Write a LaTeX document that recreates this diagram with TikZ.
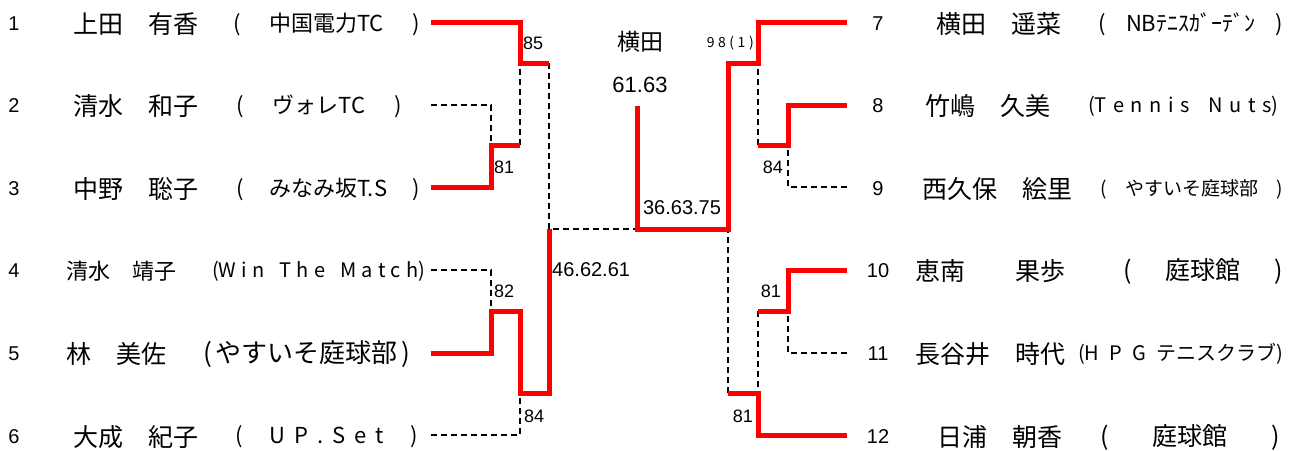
\documentclass[tikz,border=0pt]{standalone}
\usepackage{fontspec}
\setmainfont{Liberation Sans}
\newfontfamily\jp{Noto Sans CJK JP}
\definecolor{winred}{RGB}{255, 0, 0}
\newcommand{\clubtext}[2]{\makebox[#1pt][s]{#2}}
\tikzset{
  seed/.style={font=\fontsize{20}{24}\selectfont, inner sep=0pt},
  player/.style={font=\jp\fontsize{25}{29}\selectfont, anchor=west, inner sep=0pt},
  club/.style={font=\jp\fontsize{22}{26}\selectfont, anchor=west, inner sep=0pt},
  score/.style={font=\fontsize{18}{22}\selectfont, inner sep=0pt},
  win/.style={winred, line width=5pt},
  lose/.style={black, line width=2.5pt, dash pattern=on 6pt off 4pt},
}

\begin{document}
\begin{tikzpicture}[x=1pt, y=-1pt]
  \useasboundingbox (0,0) rectangle (1296,450);

  % Seeds
  \node[seed] (s1) at (14,24) {1};
  \node[seed] (s2) at (14,106) {2};
  \node[seed] (s3) at (14,189) {3};
  \node[seed] (s4) at (14,271) {4};
  \node[seed] (s5) at (14,354) {5};
  \node[seed] (s6) at (14,437) {6};
  \node[seed] (s7) at (878,24) {7};
  \node[seed] (s8) at (878,106) {8};
  \node[seed] (s9) at (878,189) {9};
  \node[seed] (s10) at (878,271) {10};
  \node[seed] (s11) at (878,354) {11};
  \node[seed] (s12) at (878,437) {12};

  % Players, left half
  \node[player] (p1) at (73,24) {上田　有香};
  \node[player] (p2) at (73,106) {清水　和子};
  \node[player] (p3) at (73,189) {中野　聡子};
  \node[player, font=\jp\fontsize{22}{26}\selectfont] (p4) at (66,271) {清水　靖子};
  \node[player] (p5) at (66,354) {林　美佐};
  \node[player] (p6) at (73,437) {大成　紀子};

  % Players, right half
  \node[player] (p7) at (936,24) {横田　遥菜};
  \node[player] (p8) at (925,106) {竹嶋　久美};
  \node[player] (p9) at (922,189) {西久保　絵里};
  \node[player] (p10) at (915,271) {恵南　　果歩};
  \node[player] (p11) at (915,354) {長谷井　時代};
  \node[player] (p12) at (937,437) {日浦　朝香};

  % Clubs, left half
  \node[club] (c1) at (233,24) {\clubtext{187}{( 中国電力TC )}};
  \node[club] (c2) at (236,106) {\clubtext{166}{( ヴォレTC )}};
  \node[club] (c3) at (236,189) {\clubtext{184}{( みなみ坂T.S )}};
  \node[club, font=\jp\fontsize{20}{24}\selectfont] (c4) at (212,271) {\clubtext{213}{(W i n ~ T h e ~ M a t c h)}};
  \node[club, font=\jp\fontsize{26}{30}\selectfont] (c5) at (203,354) {\clubtext{205}{( やすいそ庭球部 )}};
  \node[club] (c6) at (235,437) {\clubtext{183}{(~~~U P . S e t~~~)}};

  % Clubs, right half
  \node[club] (c7) at (1098,24) {\clubtext{185}{( NBﾃﾆｽｶﾞｰﾃﾞﾝ )}};
  \node[club, font=\jp\fontsize{20}{24}\selectfont] (c8) at (1088,106) {\clubtext{190}{(T e n n i s ~ N u t s)}};
  \node[club, font=\jp\fontsize{19}{23}\selectfont] (c9) at (1100,189) {\clubtext{183}{( やすいそ庭球部 )}};
  \node[club, font=\jp\fontsize{25}{29}\selectfont] (c10) at (1123,271) {\clubtext{160}{( 庭球館 )}};
  \node[club, font=\jp\fontsize{20}{24}\selectfont] (c11) at (1078,354) {\clubtext{205}{(H P G テニスクラブ)}};
  \node[club, font=\jp\fontsize{25}{29}\selectfont] (c12) at (1100,437) {\clubtext{180}{( 庭球館 )}};

  % Line ends
  \coordinate (e1) at (431,22);
  \coordinate (e2) at (431,105);
  \coordinate (e3) at (431,187);
  \coordinate (e4) at (431,270);
  \coordinate (e5) at (431,353);
  \coordinate (e6) at (431,435);
  \coordinate (e7) at (847,22);
  \coordinate (e8) at (847,105);
  \coordinate (e9) at (847,187);
  \coordinate (e10) at (847,270);
  \coordinate (e11) at (847,353);
  \coordinate (e12) at (847,435);

  % Match points
  \coordinate (mA) at (491,145);  \coordinate (oA) at (520,145);
  \coordinate (mB) at (520,63);   \coordinate (oB) at (549,63);
  \coordinate (mC) at (491,311);  \coordinate (oC) at (520,311);
  \coordinate (mD) at (520,393);  \coordinate (oD) at (549,393);
  \coordinate (sL) at (549,229);
  \coordinate (fin) at (637,229);
  \coordinate (top) at (637,106);
  \coordinate (sR) at (728,229);
  \coordinate (mE) at (788,145);  \coordinate (oE) at (758,145);
  \coordinate (mF) at (758,63);   \coordinate (oF) at (728,63);
  \coordinate (mG) at (788,311);  \coordinate (oG) at (758,311);
  \coordinate (mH) at (758,393);  \coordinate (oH) at (728,393);

  % Lost lines
  \draw[lose] (e2) -| (mA);
  \draw[lose] (oA) -- (mB);
  \draw[lose] (e4) -| (mC);
  \draw[lose] (e6) -| (mD);
  \draw[lose] (oB) -- (sL) -- (fin);
  \draw[lose] (e9) -| (mE);
  \draw[lose] (oE) -- (mF);
  \draw[lose] (e11) -| (mG);
  \draw[lose] (oG) -- (mH);
  \draw[lose] (oH) -- (sR);

  % Won lines
  \draw[win] (e1) -| (mB) -- (oB);
  \draw[win] (e3) -| (mA) -- (oA);
  \draw[win] (e5) -| (mC) -- (oC) -- (mD) -- (oD) -- (sL);
  \draw[win] (e8) -| (mE) -- (oE);
  \draw[win] (e10) -| (mG) -- (oG);
  \draw[win] (e12) -| (mH) -- (oH);
  \draw[win] (e7) -| (mF) -- (oF) -- (sR) -- (fin) -- (top);

  % Scores
  \node[score, anchor=west] (r85) at (523,43) {85};
  \node[score, anchor=west] (r81a) at (494,167) {81};
  \node[score, anchor=west] (r82) at (494,291) {82};
  \node[score, anchor=west] (r84a) at (524,416) {84};
  \node[score, anchor=west, font=\fontsize{20}{24}\selectfont] (rsl) at (552,270) {46.62.61};
  \node[score, font=\fontsize{20}{24}\selectfont] (rfin) at (682,208) {36.63.75};
  \node[score, anchor=east, font=\jp\fontsize{14}{17}\selectfont] (r98) at (754,43) {\clubtext{47}{9 8 ( 1 )}};
  \node[score, anchor=east] (r84b) at (783,167) {84};
  \node[score, anchor=east] (r81b) at (781,291) {81};
  \node[score, anchor=east] (r81c) at (753,416) {81};

  % Champion
  \node[font=\jp\fontsize{23}{27}\selectfont, inner sep=0pt] (champ) at (640,42) {横田};
  \node[score, font=\fontsize{22}{26}\selectfont] (champsc) at (640,85) {61.63};
\end{tikzpicture}
\end{document}
